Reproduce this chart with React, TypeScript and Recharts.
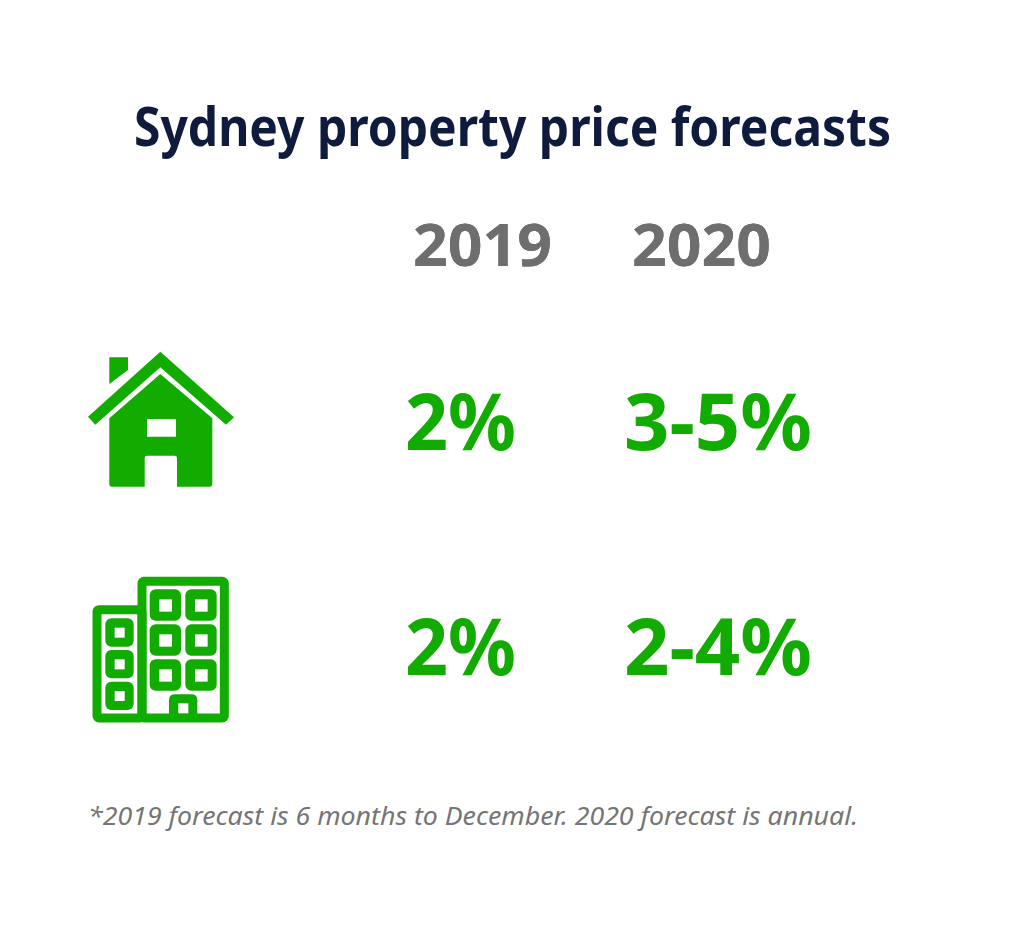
import React from "react";
import { ScatterChart, Scatter, XAxis, YAxis } from "recharts";

const TITLE = "Sydney property price forecasts";
const FOOTNOTE = "*2019 forecast is 6 months to December. 2020 forecast is annual.";
const ICON_COLUMN = "icon";
const YEARS = ["2019", "2020"];
const ROWS = ["Houses", "Units"];
const HOUSE_FORECASTS = ["2%", "3-5%"];
const UNIT_FORECASTS = ["2%", "2-4%"];

const GREEN = "#12ab00";
const GREY = "#6e6e6e";
const NAVY = "#0e1b3d";
const FONT = "'Noto Sans', sans-serif";

const iconData = ROWS.map((row) => ({ col: ICON_COLUMN, row }));
const houseData = YEARS.map((col, i) => ({ col, row: ROWS[0], value: HOUSE_FORECASTS[i] }));
const unitData = YEARS.map((col, i) => ({ col, row: ROWS[1], value: UNIT_FORECASTS[i] }));

const ValueMark = (props: any) => {
  const w = props.payload.value.length > 2 ? 188 : 111;
  return (
    <text x={props.cx - 8} y={props.cy + 25} fill={GREEN} fontFamily={FONT} fontWeight={700} fontSize={78}
      textLength={w} lengthAdjust="spacingAndGlyphs">
      {props.payload.value}
    </text>
  );
};

const HouseIcon = ({ cx, cy }: any) => (
  <g transform={`translate(${cx - 114} ${cy - 85})`} fill={GREEN}>
    <path d="M80.3 11.7L154 77.3L146 84.7L80.3 27.3L15.3 84.7L8 76.7Z" />
    <path d="M29.3 17.3H48V30L29.3 44Z" />
    <path fillRule="evenodd" d="M80.3 34L132.3 78.3V144Q132.3 146.7 129.6 146.7H97V118Q97 115.7 94.7 115.7H67Q64.7 115.7 64.7 118V146.7H32Q29.3 146.7 29.3 144V78.3ZM67 79V96.7H96V79Z" />
  </g>
);

const leftWindows = [160, 255, 350];
const rightWindowRows = [73, 178, 283];
const rightWindowCols = [209, 316];

const BuildingIcon = ({ cx, cy }: any) => (
  <g transform={`translate(${cx - 114} ${cy - 85}) scale(0.3333)`}>
    <rect x={51} y={134} width={135} height={325} rx={6} fill="none" stroke={GREEN} strokeWidth={27} />
    <rect x={186} y={49} width={247} height={410} rx={6} fill="none" stroke={GREEN} strokeWidth={27} />
    {leftWindows.map((y) => (
      <g key={y}>
        <rect x={76} y={y} width={85} height={85} rx={18} fill={GREEN} />
        <rect x={104} y={y + 28} width={30} height={30} fill="#fff" />
      </g>
    ))}
    {rightWindowRows.map((y) =>
      rightWindowCols.map((x) => (
        <g key={x}>
          <rect x={x} y={y} width={94} height={94} rx={18} fill={GREEN} />
          <rect x={x + 29} y={y + 30} width={38} height={37} fill="#fff" />
        </g>
      ))
    )}
    <path d="M267 450V406Q267 388 285 388H334Q352 388 352 406V450Z" fill={GREEN} />
    <rect x={295} y={415} width={30} height={30} fill="#fff" />
  </g>
);

const IconMark = (props: any) =>
  props.payload.row === ROWS[0] ? <HouseIcon cx={props.cx} cy={props.cy} /> : <BuildingIcon cx={props.cx} cy={props.cy} />;

const YearTick = ({ x, y, payload }: any) =>
  payload.value === ICON_COLUMN ? null : (
    <text x={x} y={y - 4} fill={GREY} fontFamily={FONT} fontWeight={700} fontSize={60} textLength={139} lengthAdjust="spacingAndGlyphs">
      {payload.value}
    </text>
  );

export default function App() {
  return (
    <div style={{ position: "absolute", left: 0, top: 0, width: 1024, height: 930, background: "#fff" }}>
      <ScatterChart width={1024} height={930} margin={{ top: 269, right: 0, bottom: 0, left: 0 }}>
        <XAxis dataKey="col" type="category" scale="point" orientation="top" height={1} allowDuplicatedCategory={false}
          padding={{ left: 194, right: 392 }} axisLine={false} tickLine={false} tickSize={0} tickMargin={0} tick={<YearTick />} interval={0} />
        <YAxis dataKey="row" type="category" scale="point" width={0} hide reversed allowDuplicatedCategory={false}
          padding={{ top: 155, bottom: 280 }} />
        <Scatter data={iconData} shape={<IconMark />} isAnimationActive={false} />
        <Scatter data={houseData} shape={<ValueMark />} isAnimationActive={false} />
        <Scatter data={unitData} shape={<ValueMark />} isAnimationActive={false} />
        <text x={134} y={146} fill={NAVY} fontFamily={FONT} fontWeight={700} fontSize={54} textLength={757} lengthAdjust="spacingAndGlyphs">
          {TITLE}
        </text>
        <text x={88} y={825} fill="#757575" fontFamily={FONT} fontStyle="italic" fontSize={26} textLength={770} lengthAdjust="spacingAndGlyphs">
          {FOOTNOTE}
        </text>
      </ScatterChart>
    </div>
  );
}
